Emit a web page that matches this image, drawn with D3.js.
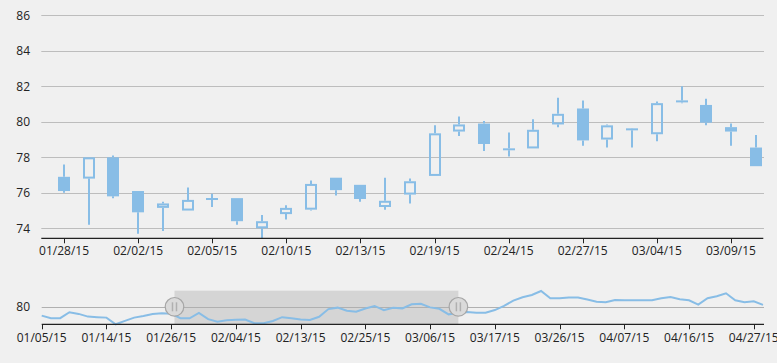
<!DOCTYPE html>
<html><head><meta charset="utf-8">
<script src="https://cdn.jsdelivr.net/npm/d3@7"></script>
<style>
html,body{margin:0;padding:0;background:#f0f0f0;}
svg{display:block;font-family:"Open Sans",sans-serif;}
</style></head><body>
<svg id="c" width="777" height="363"></svg>
<script>
// ---- data ----
const dates = [
 "01/05/15","01/06/15","01/07/15","01/08/15","01/09/15","01/12/15","01/13/15","01/14/15","01/15/15","01/16/15",
 "01/20/15","01/21/15","01/22/15","01/23/15","01/26/15","01/27/15","01/28/15","01/29/15","01/30/15",
 "02/02/15","02/03/15","02/04/15","02/05/15","02/06/15","02/09/15","02/10/15","02/11/15","02/12/15","02/13/15",
 "02/17/15","02/18/15","02/19/15","02/20/15","02/23/15","02/24/15","02/25/15","02/26/15","02/27/15",
 "03/02/15","03/03/15","03/04/15","03/05/15","03/06/15","03/09/15","03/10/15","03/11/15","03/12/15","03/13/15",
 "03/16/15","03/17/15","03/18/15","03/19/15","03/20/15","03/23/15","03/24/15","03/25/15","03/26/15","03/27/15",
 "03/30/15","03/31/15","04/01/15","04/02/15","04/06/15","04/07/15","04/08/15","04/09/15","04/10/15",
 "04/13/15","04/14/15","04/15/15","04/16/15","04/17/15","04/20/15","04/21/15","04/22/15","04/23/15","04/24/15",
 "04/27/15","04/28/15"];
const close = [
 77.05,76.15,76.15,78.25,77.65,76.7,76.5,76.35,74.0,75.2,
 76.35,76.95,77.65,77.9,77.75,76.15,76.1,78.0,75.8,
 74.9,75.4,75.6,75.7,74.4,74.4,75.15,76.5,76.15,75.65,
 75.55,76.65,79.35,79.85,78.75,78.4,79.55,80.45,78.95,
 79.8,79.6,81.05,81.2,79.95,79.45,77.5,78.0,78.3,78.1,
 78.1,79.0,80.5,82.3,83.5,84.3,85.7,83.15,83.15,83.4,
 83.4,82.7,81.95,81.75,82.55,82.45,82.45,82.45,82.45,
 83.15,83.6,82.8,82.45,80.9,83.15,83.85,84.9,82.45,81.75,
 82.1,80.8];
// OHLC details for the zoomed range 01/28/15 .. 03/10/15
const firstCandle = 16;
const open = [76.9,76.8,78.0,76.1,75.15,75.0,75.6,75.7,74.0,74.8,75.05,76.85,76.45,75.2,75.9,76.95,79.45,79.9,78.5,78.5,79.85,80.75,79.0,79.55,79.3,81.1,80.95,79.7,78.55];
const high = [77.6,78.0,78.1,76.1,75.5,76.3,75.95,75.7,74.75,75.3,76.7,76.85,76.45,76.85,76.8,79.8,80.3,80.05,79.4,80.15,81.35,81.2,79.85,79.65,81.15,82.0,81.3,79.9,79.25];
const low  = [76.0,74.2,75.7,73.7,73.85,75.0,75.2,74.2,73.4,74.5,75.0,75.85,75.5,75.05,75.4,76.95,79.2,78.35,78.05,78.5,79.7,78.65,78.55,78.55,78.9,81.05,79.8,78.65,77.5];
const yTicks = [74,76,78,80,82,84,86];
const navYTicks = [80];
const mainTickStep = 3, navTickStep = 7;
const selection = [14.36, 45.06];
const mainView = [15.08, 44.31];

// ---- layout ----
const color = "#88bde6";
const svg = d3.select("#c");
const x = d3.scaleLinear().domain(mainView).range([41.3, 763.3]);
const y = d3.scaleLinear().domain([74, 86]).range([228.3, 15.3]);
const axisY = 238.3;

// gridlines
const g = svg.append("g");
g.selectAll("line.grid").data(yTicks).join("line")
  .attr("x1", 41.3).attr("x2", 764).attr("y1", d => Math.round(y(d)) + 0.5).attr("y2", d => Math.round(y(d)) + 0.5)
  .attr("stroke", "#bdbdbd").attr("stroke-width", 1);
g.selectAll("text.yl").data(yTicks).join("text")
  .attr("x", 30).attr("y", d => y(d)).attr("dy", "0.35em").attr("text-anchor", "end")
  .attr("font-size", 12).attr("fill", "#222").text(d => d);

// candles
svg.append("clipPath").attr("id", "clipMain").append("rect")
  .attr("x", 41.3).attr("y", 0).attr("width", 722).attr("height", axisY);
const candles = open.map((o, i) => ({i: firstCandle + i, o, h: high[i], l: low[i], c: close[firstCandle + i]}));
const cg = svg.append("g").attr("clip-path", "url(#clipMain)");
candles.forEach(d => {
  const cx = Math.round(x(d.i));
  const top = y(Math.max(d.o, d.c)), bot = y(Math.min(d.o, d.c));
  let bTop = top, bBot = bot;
  if (bBot - bTop < 2) { const m = (bTop + bBot) / 2; bTop = m - 1; bBot = m + 1; }
  const up = d.c >= d.o;
  cg.append("line").attr("x1", cx).attr("x2", cx).attr("y1", y(d.h)).attr("y2", bTop)
    .attr("stroke", color).attr("stroke-width", 2);
  cg.append("line").attr("x1", cx).attr("x2", cx).attr("y1", bBot).attr("y2", y(d.l))
    .attr("stroke", color).attr("stroke-width", 2);
  if (up && bBot - bTop > 3) {
    cg.append("rect").attr("x", cx - 5).attr("y", bTop + 1).attr("width", 10).attr("height", Math.max(0, bBot - bTop - 2))
      .attr("fill", "none").attr("stroke", color).attr("stroke-width", 2);
  } else {
    cg.append("rect").attr("x", cx - 6).attr("y", bTop).attr("width", 12).attr("height", bBot - bTop)
      .attr("fill", color);
  }
});

// main x axis
const mainTicks = d3.range(firstCandle, firstCandle + open.length, mainTickStep);
svg.append("line").attr("x1", 41.3).attr("x2", 763.3).attr("y1", axisY).attr("y2", axisY)
  .attr("stroke", "#222").attr("stroke-width", 1.3);
svg.selectAll("line.mt").data(mainTicks).join("line")
  .attr("x1", d => Math.round(x(d)) + 0.5).attr("x2", d => Math.round(x(d)) + 0.5)
  .attr("y1", axisY).attr("y2", axisY + 5).attr("stroke", "#222");
svg.selectAll("text.mt").data(mainTicks).join("text")
  .attr("x", d => x(d)).attr("y", 251).attr("dy", "0.35em").attr("text-anchor", "middle")
  .attr("font-size", 12).attr("fill", "#222").text(d => dates[d]);

// ---- navigator ----
const nx = d3.scaleLinear().domain([0, dates.length - 1]).range([41.7, 763]);
const ny = d3.scaleLinear().domain(d3.extent(close)).range([324.3, 291]);
const navAxisY = 324.3;
svg.append("rect").attr("x", nx(selection[0])).attr("y", 290.7)
  .attr("width", nx(selection[1]) - nx(selection[0])).attr("height", navAxisY - 290.7)
  .attr("fill", "#d5d5d5");
svg.selectAll("line.ng").data(navYTicks).join("line")
  .attr("x1", 41.7).attr("x2", 764).attr("y1", d => Math.round(ny(d)) + 0.5).attr("y2", d => Math.round(ny(d)) + 0.5)
  .attr("stroke", "#b0b0b0");
svg.selectAll("text.ny").data(navYTicks).join("text")
  .attr("x", 30).attr("y", d => ny(d)).attr("dy", "0.35em").attr("text-anchor", "end")
  .attr("font-size", 12).attr("fill", "#222").text(d => d);
svg.append("path").datum(close)
  .attr("d", d3.line().x((d, i) => nx(i)).y(d => ny(d)))
  .attr("fill", "none").attr("stroke", color).attr("stroke-width", 2);
const navTicks = d3.range(0, dates.length, navTickStep);
svg.append("line").attr("x1", 41.7).attr("x2", 764).attr("y1", navAxisY).attr("y2", navAxisY)
  .attr("stroke", "#222").attr("stroke-width", 1.3);
svg.selectAll("line.nt").data(navTicks).join("line")
  .attr("x1", d => Math.round(nx(d)) + 0.5).attr("x2", d => Math.round(nx(d)) + 0.5)
  .attr("y1", navAxisY).attr("y2", navAxisY + 5).attr("stroke", "#222");
svg.selectAll("text.nt").data(navTicks).join("text")
  .attr("x", d => nx(d)).attr("y", 337.5).attr("dy", "0.35em").attr("text-anchor", "middle")
  .attr("font-size", 12).attr("fill", "#222").text(d => dates[d]);

// handles
selection.forEach(s => {
  const hx = nx(s), hy = 306.8;
  const hg = svg.append("g");
  hg.append("circle").attr("cx", hx).attr("cy", hy).attr("r", 9.3)
    .attr("fill", "#dadada").attr("stroke", "#a6a6a6").attr("stroke-width", 1.2);
  [-2, 2].forEach(o => hg.append("line").attr("x1", hx + o).attr("x2", hx + o)
    .attr("y1", hy - 4.5).attr("y2", hy + 4.5).attr("stroke", "#b0b0b0").attr("stroke-width", 1.5));
});
</script></body></html>
